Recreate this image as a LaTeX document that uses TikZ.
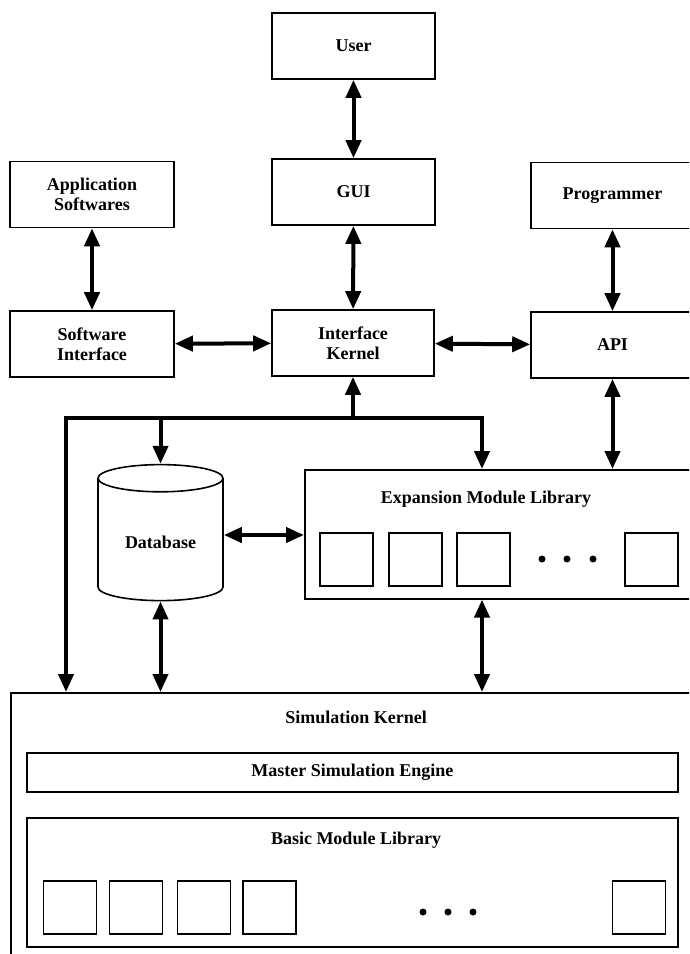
\documentclass[tikz,border=0pt]{standalone}
\usepackage{fontspec}
\setmainfont{Liberation Serif}
\usepackage{xcolor}
\usepackage{tikz}
\usetikzlibrary{shapes.geometric, arrows.meta, positioning}
\tikzset{
    box/.style={rectangle, minimum width=163pt, minimum height=66pt, text centered, draw, line width=1.6pt, align=center, font=\bfseries\fontsize{18}{20}\selectfont},
    frame/.style={rectangle, draw, line width=1.6pt, anchor=north west, font=\bfseries\fontsize{18}{20}\selectfont},
    slot/.style={rectangle, draw, line width=1.6pt, minimum width=53pt, minimum height=53pt},
    title/.style={font=\bfseries\fontsize{18}{20}\selectfont},
    flow/.style={-{Triangle[length=18pt, width=15pt]}, line width=4pt},
    dflow/.style={{Triangle[length=18pt, width=15pt]}-{Triangle[length=18pt, width=15pt]}, line width=4pt}
}

\begin{document}
\begin{tikzpicture}[x=1pt, y=-1pt]
    \useasboundingbox (0,0) rectangle (689,954);
    \clip (0,0) rectangle (689,954);

    % Top row of boxes
    \node[box] (user) at (353.5,46) {User};
    \node[box] (gui) at (353.5,192) {GUI};
    \node[box, minimum width=164pt] (appsw) at (92,194.5) {Application\\Softwares};
    \node[box] (prog) at (612.5,195.5) {Programmer};

    % Interface row
    \node[box, minimum width=164pt] (swif) at (92,344) {Software\\Interface};
    \node[box, minimum width=162pt] (kernel) at (353,343) {Interface\\Kernel};
    \node[box] (api) at (612.5,345) {API};

    % Database
    \node[cylinder, shape border rotate=90, draw, line width=1.6pt, aspect=0.35,
          minimum width=125pt, minimum height=136pt, title] (database) at (160.5,542) {Database};

    % Expansion Module Library
    \node[frame, minimum width=420pt, minimum height=129pt] (expansion) at (304,469) {};
    \node[title] (exptitle) at (486,499) {Expansion Module Library};
    \node[slot] (exp1) at (346.5,559.5) {};
    \node[slot] (exp2) at (415.5,559.5) {};
    \node[slot] (exp3) at (483.5,559.5) {};
    \node[slot] (expn) at (651.5,559.5) {};
    \fill (542,559) circle (3.5pt) (567,559) circle (3.5pt) (593,559) circle (3.5pt);

    % Simulation Kernel
    \node[frame, minimum width=692pt, minimum height=300pt] (simkernel) at (10,692) {};
    \node[title] (simtitle) at (356,717) {Simulation Kernel};
    \node[frame, minimum width=651pt, minimum height=39pt] (master) at (26,752) {Master Simulation Engine};
    \node[frame, minimum width=651pt, minimum height=129pt] (basic) at (26,817) {};
    \node[title] (basictitle) at (356,840) {Basic Module Library};
    \node[slot] (bas1) at (70,907.5) {};
    \node[slot] (bas2) at (136,907.5) {};
    \node[slot] (bas3) at (204,907.5) {};
    \node[slot] (bas4) at (269.5,907.5) {};
    \node[slot] (basn) at (639,907.5) {};
    \fill (423,912) circle (3.5pt) (448,912) circle (3.5pt) (473,912) circle (3.5pt);

    % Flows between boxes
    \draw[dflow] (user) -- (gui);
    \draw[dflow] (gui) -- (kernel);
    \draw[dflow] (appsw) -- (swif);
    \draw[dflow] (prog) -- (api);
    \draw[dflow] (swif) -- (kernel);
    \draw[dflow] (kernel) -- (api);

    % Bus below the Interface Kernel
    \coordinate (busL) at (66,418);
    \coordinate (busR) at (482,418);
    \coordinate (tap) at (kernel.south |- busL);
    \draw[flow] (tap) -- (kernel.south);
    \draw[flow] (tap) -| (busR |- expansion.north);
    \draw[flow] (tap) -| (busL |- simkernel.north);
    \draw[flow] (database.north |- busL) -- (database.north);

    % Links to the kernel and libraries
    \coordinate (dbside) at ([yshift=7pt]database.east);
    \draw[dflow] (dbside) -- (expansion.west |- dbside);
    \draw[dflow] (database.south) -- (database.south |- simkernel.north);
    \draw[dflow] (api.south) -- (api.south |- expansion.north);
    \draw[dflow] (busR |- expansion.south) -- (busR |- simkernel.north);
\end{tikzpicture}
\end{document}
